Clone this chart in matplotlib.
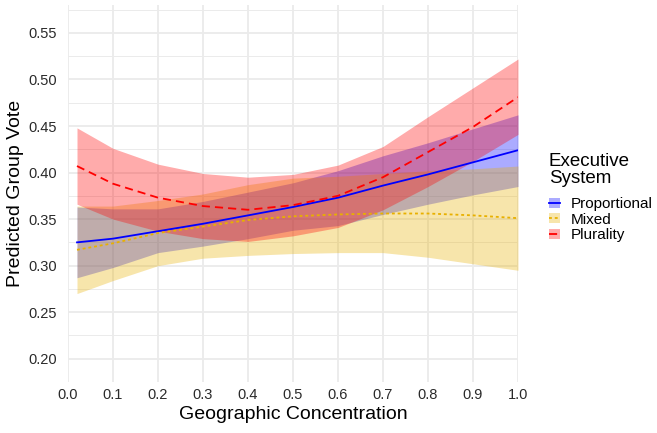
import numpy as np
import matplotlib
matplotlib.use("Agg")
import matplotlib.pyplot as plt
from matplotlib.patches import Patch
from matplotlib.lines import Line2D

plt.rcParams['font.family'] = ['Liberation Sans', 'DejaVu Sans']

# predicted values
conc = [0.02, 0.1, 0.2, 0.3, 0.4, 0.5, 0.6, 0.7, 0.8, 0.9, 1.0]

prop_fit = [0.325, 0.329, 0.337, 0.345, 0.354, 0.363, 0.373, 0.386, 0.398, 0.411, 0.424]
prop_hi = [0.363, 0.361, 0.361, 0.369, 0.379, 0.389, 0.402, 0.418, 0.432, 0.447, 0.462]
prop_lo = [0.287, 0.298, 0.314, 0.321, 0.329, 0.338, 0.343, 0.355, 0.366, 0.376, 0.385]

mixed_fit = [0.317, 0.324, 0.335, 0.342, 0.349, 0.353, 0.355, 0.356, 0.356, 0.354, 0.351]
mixed_hi = [0.364, 0.364, 0.370, 0.377, 0.387, 0.394, 0.396, 0.399, 0.402, 0.404, 0.407]
mixed_lo = [0.270, 0.284, 0.300, 0.308, 0.311, 0.313, 0.314, 0.314, 0.309, 0.302, 0.295]

plur_fit = [0.407, 0.388, 0.373, 0.364, 0.360, 0.365, 0.375, 0.395, 0.422, 0.449, 0.481]
plur_hi = [0.448, 0.426, 0.409, 0.399, 0.395, 0.398, 0.408, 0.428, 0.460, 0.491, 0.522]
plur_lo = [0.366, 0.350, 0.337, 0.329, 0.326, 0.332, 0.341, 0.360, 0.385, 0.412, 0.441]

labels = ['Proportional', 'Mixed', 'Plurality']
colors = ['#0000FF', '#E8B000', '#FF0000']
styles = ['-', (0, (1.6, 1.6)), (0, (4.5, 2.8))]

fig = plt.figure(figsize=(6.57, 4.33), dpi=100, facecolor='w')
ax = fig.add_axes([68/657, 1-382/433, 450/657, 377/433])

series = [(prop_fit, prop_lo, prop_hi), (mixed_fit, mixed_lo, mixed_hi), (plur_fit, plur_lo, plur_hi)]
for (fit, lo, hi), c in zip(series, colors):
    ax.fill_between(conc, lo, hi, color=c, alpha=0.33, lw=0)
for (fit, lo, hi), c, ls in zip(series, colors, styles):
    ax.plot(conc, fit, color=c, lw=1.3, ls=ls)

ax.set_xlim(0, 1)
ax.set_ylim(0.177, 0.58)
ax.set_xticks(np.arange(0, 1.01, 0.1))
ax.set_yticks(np.arange(0.20, 0.551, 0.05))
ax.set_yticks(np.arange(0.175, 0.58, 0.05), minor=True)
ax.set_xticklabels(['%.1f' % v for v in np.arange(0, 1.01, 0.1)])
ax.set_yticklabels(['%.2f' % v for v in np.arange(0.20, 0.551, 0.05)])
ax.tick_params(which='both', length=0, labelsize=10.5, colors='#2a2a2a')
ax.tick_params(axis='y', pad=8)
ax.tick_params(axis='x', pad=4)
ax.grid(which='major', color='#EBEBEB', lw=1.3)
ax.grid(which='minor', axis='y', color='#EBEBEB', lw=0.7)
ax.set_axisbelow(True)
for spine in ('top', 'right', 'bottom', 'left'):
    ax.spines[spine].set_visible(False)

ax.set_xlabel('Geographic Concentration', fontsize=14, labelpad=3)
ax.set_ylabel('Predicted Group Vote', fontsize=14, labelpad=3)

handles = []
for c, ls in zip(colors, styles):
    handles.append((Patch(facecolor=c, alpha=0.33, lw=0), Line2D([], [], color=c, lw=1.3, ls=ls)))
leg = fig.legend(handles, labels, title='Executive\nSystem', loc='upper left',
                 bbox_to_anchor=(541/657, 1-145/433), frameon=False, fontsize=11,
                 title_fontsize=13.5, handlelength=0.75, handleheight=0.65,
                 handletextpad=0.7, labelspacing=0.1, borderpad=0, alignment='left')
leg.get_title().set_linespacing(1.05)
leg._legend_box.sep = 7

plt.savefig('out.png', dpi=100)
